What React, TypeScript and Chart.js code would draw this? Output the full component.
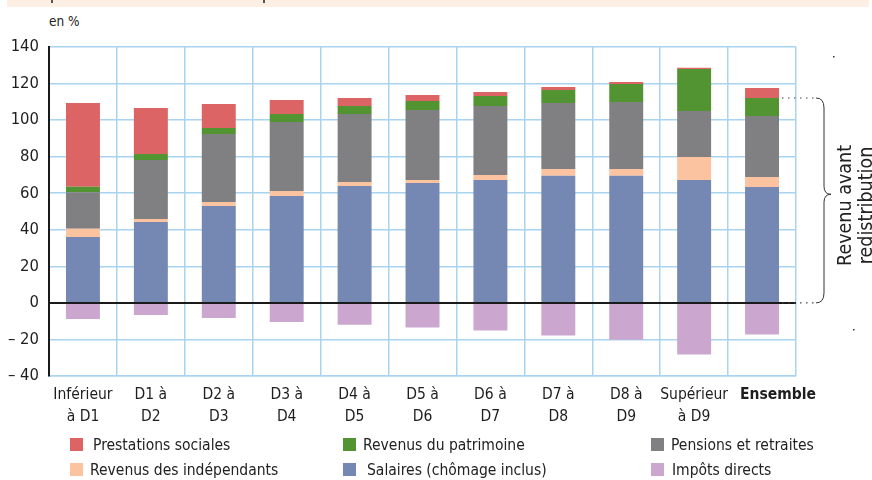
import React, { useEffect, useRef } from "react";
import { Chart, registerables } from "chart.js";

Chart.register(...registerables);

const CATEGORIES: (string | string[])[] = [
  ["Inférieur", "à D1"],
  ["D1 à", "D2"],
  ["D2 à", "D3"],
  ["D3 à", "D4"],
  ["D4 à", "D5"],
  ["D5 à", "D6"],
  ["D6 à", "D7"],
  ["D7 à", "D8"],
  ["D8 à", "D9"],
  ["Supérieur", "à D9"],
  "Ensemble",
];

const SALAIRES = [36.1, 44.3, 53.0, 58.5, 64.0, 65.6, 67.3, 69.5, 69.5, 67.3, 63.4];
const INDEPENDANTS = [4.4, 1.6, 2.2, 2.7, 2.2, 1.7, 2.7, 3.8, 3.8, 12.5, 5.5];
const PENSIONS = [20.0, 32.3, 37.2, 37.8, 37.2, 38.2, 37.7, 36.1, 36.6, 25.2, 33.4];
const PATRIMOINE = [3.0, 3.3, 3.3, 4.4, 4.3, 5.0, 5.5, 7.1, 9.9, 23.0, 9.8];
const PRESTATIONS = [45.9, 25.1, 13.1, 7.6, 4.4, 3.2, 2.2, 1.6, 1.1, 0.6, 5.5];
const IMPOTS = [-8.8, -6.6, -8.2, -10.4, -12.0, -13.5, -15.1, -17.9, -20.1, -28.3, -17.3];

const Y_MIN = -40;
const Y_MAX = 140;
const Y_STEP = 20;

const C_PRESTATIONS = "rgb(220,100,100)";
const C_PATRIMOINE = "rgb(82,148,50)";
const C_PENSIONS = "rgb(128,128,131)";
const C_INDEP = "rgb(251,195,160)";
const C_SALAIRES = "rgb(116,136,179)";
const C_IMPOTS = "rgb(203,167,207)";

const GRID = "rgb(168,212,240)";
const COND = "'DejaVu Sans Condensed', 'DejaVu Sans', sans-serif";

const LEGEND = [
  { label: "Prestations sociales", color: C_PRESTATIONS, sx: 70, tx: 93, row: 0 },
  { label: "Revenus des indépendants", color: C_INDEP, sx: 70, tx: 90, row: 1 },
  { label: "Revenus du patrimoine", color: C_PATRIMOINE, sx: 343, tx: 363, row: 0 },
  { label: "Salaires (chômage inclus)", color: C_SALAIRES, sx: 343, tx: 367, row: 1 },
  { label: "Pensions et retraites", color: C_PENSIONS, sx: 651, tx: 671, row: 0 },
  { label: "Impôts directs", color: C_IMPOTS, sx: 651, tx: 672, row: 1 },
];

// shifts the bold "Ensemble" label to the right, as in the original layout
const labelShiftPlugin = {
  id: "labelShift",
  beforeDraw(chart: any) {
    const xs = chart.scales.x;
    if (!xs || !xs.getLabelItems) return;
    const items = xs.getLabelItems();
    const it = items[CATEGORIES.length - 1];
    if (it && !it.__shifted) {
      it.options.translation[0] += 16;
      it.__shifted = true;
    }
  },
};

const bracePlugin = {
  id: "brace",
  afterDraw(chart: any) {
    const ctx = chart.ctx;
    const ys = chart.scales.y;
    const last = CATEGORIES.length - 1;
    const beforeTotal =
      SALAIRES[last] + INDEPENDANTS[last] + PENSIONS[last] + PATRIMOINE[last];
    const el = chart.getDatasetMeta(0).data[last];
    const xStart = el.x + el.width / 2 + 3;
    const top = ys.getPixelForValue(beforeTotal);
    const bottom = ys.getPixelForValue(0);
    const bx = 816;
    const vx = 824;
    const mid = top + (bottom - top) * 0.47;

    ctx.save();
    ctx.strokeStyle = "#444";
    ctx.lineWidth = 1.2;
    ctx.setLineDash([1.5, 4.5]);
    ctx.beginPath();
    ctx.moveTo(xStart, top);
    ctx.lineTo(bx - 2, top);
    ctx.moveTo(xStart, bottom);
    ctx.lineTo(bx - 2, bottom);
    ctx.stroke();
    ctx.setLineDash([]);

    ctx.strokeStyle = "#333";
    ctx.lineWidth = 1;
    ctx.beginPath();
    ctx.moveTo(bx, top);
    ctx.quadraticCurveTo(vx, top, vx, top + 10);
    ctx.lineTo(vx, mid - 8);
    ctx.quadraticCurveTo(vx, mid, vx + 7, mid);
    ctx.quadraticCurveTo(vx, mid, vx, mid + 8);
    ctx.lineTo(vx, bottom - 10);
    ctx.quadraticCurveTo(vx, bottom, bx, bottom);
    ctx.stroke();

    ctx.fillStyle = "#333";
    ctx.fillRect(833, 56, 1.5, 1.5);
    ctx.fillRect(853, 329, 1.5, 1.5);

    ctx.translate(846, (top + bottom) / 2 + 5);
    ctx.rotate(-Math.PI / 2);
    ctx.fillStyle = "#222";
    ctx.font = `19.5px ${COND}`;
    ctx.textAlign = "center";
    ctx.textBaseline = "middle";
    ctx.fillText("Revenu avant", 0, 0);
    ctx.fillText("redistribution", 0, 21);
    ctx.restore();
  },
};

export default function App() {
  const ref = useRef<HTMLCanvasElement>(null);

  useEffect(() => {
    if (!ref.current) return;
    const mk = (label: string, data: number[], color: string) => ({
      label,
      data,
      backgroundColor: color,
      borderWidth: 0,
      stack: "s",
      barPercentage: 0.5,
      categoryPercentage: 1.0,
    });
    const chart = new Chart(ref.current, {
      type: "bar",
      data: {
        labels: CATEGORIES as any,
        datasets: [
          mk("Salaires (chômage inclus)", SALAIRES, C_SALAIRES),
          mk("Revenus des indépendants", INDEPENDANTS, C_INDEP),
          mk("Pensions et retraites", PENSIONS, C_PENSIONS),
          mk("Revenus du patrimoine", PATRIMOINE, C_PATRIMOINE),
          mk("Prestations sociales", PRESTATIONS, C_PRESTATIONS),
          mk("Impôts directs", IMPOTS, C_IMPOTS),
        ],
      },
      options: {
        responsive: false,
        animation: false,
        layout: { padding: { left: 0, right: 76, top: 47, bottom: 0 } },
        plugins: { legend: { display: false }, tooltip: { enabled: false } },
        scales: {
          x: {
            stacked: true,
            grid: { color: GRID, lineWidth: 1.5, drawTicks: false, offset: true },
            border: { color: GRID, width: 1.5 },
            ticks: {
              color: "#1e1e1e",
              padding: 8,
              maxRotation: 0,
              autoSkip: false,
              font: (c: any) =>
                c.index === CATEGORIES.length - 1
                  ? { family: COND, size: 15.5, weight: "bold", lineHeight: 1.4 }
                  : { family: COND, size: 15.5, lineHeight: 1.4 },
            },
            afterFit(s: any) {
              s.height = 104;
            },
          },
          y: {
            stacked: true,
            min: Y_MIN,
            max: Y_MAX,
            ticks: {
              stepSize: Y_STEP,
              padding: 10,
              color: "#1e1e1e",
              font: { family: COND, size: 16.5 },
              callback: (v: any) => (v < 0 ? `\u2013 ${Math.abs(v)}` : `${v}`),
            },
            grid: {
              color: (c: any) => (c.tick && c.tick.value === 0 ? "#1a1a1a" : GRID),
              lineWidth: (c: any) => (c.tick && c.tick.value === 0 ? 2 : 1.5),
              drawTicks: false,
            },
            border: { color: "#1a1a1a", width: 2 },
            afterFit(s: any) {
              s.width = 49;
            },
          },
        },
      },
      plugins: [labelShiftPlugin, bracePlugin],
    });
    return () => chart.destroy();
  }, []);

  return (
    <div
      style={{
        position: "fixed",
        left: 0,
        top: 0,
        width: 872,
        height: 480,
        background: "#fff",
        overflow: "hidden",
        fontFamily: COND,
      }}
    >
      <div
        style={{
          position: "absolute",
          left: 7,
          top: 0,
          width: 862,
          height: 7,
          background: "rgb(253,239,228)",
        }}
      />
      <div style={{ position: "absolute", left: 51, top: 0, width: 2, height: 3, background: "#555" }} />
      <div style={{ position: "absolute", left: 263, top: 0, width: 2, height: 3, background: "#555" }} />
      <div
        style={{
          position: "absolute",
          left: 49,
          top: 12,
          fontSize: 13.5,
          lineHeight: "18px",
          color: "#222",
          whiteSpace: "nowrap",
        }}
      >
        en %
      </div>
      <canvas
        ref={ref}
        width={872}
        height={480}
        style={{ position: "absolute", left: 0, top: 0, width: 872, height: 480 }}
      />
      {LEGEND.map((it) => (
        <React.Fragment key={it.label}>
          <div
            style={{
              position: "absolute",
              left: it.sx,
              top: it.row === 0 ? 438 : 463,
              width: 13,
              height: 13,
              background: it.color,
            }}
          />
          <div
            style={{
              position: "absolute",
              left: it.tx,
              top: it.row === 0 ? 435 : 460,
              fontSize: 15.5,
              lineHeight: "20px",
              color: "#222",
              whiteSpace: "nowrap",
            }}
          >
            {it.label}
          </div>
        </React.Fragment>
      ))}
    </div>
  );
}
